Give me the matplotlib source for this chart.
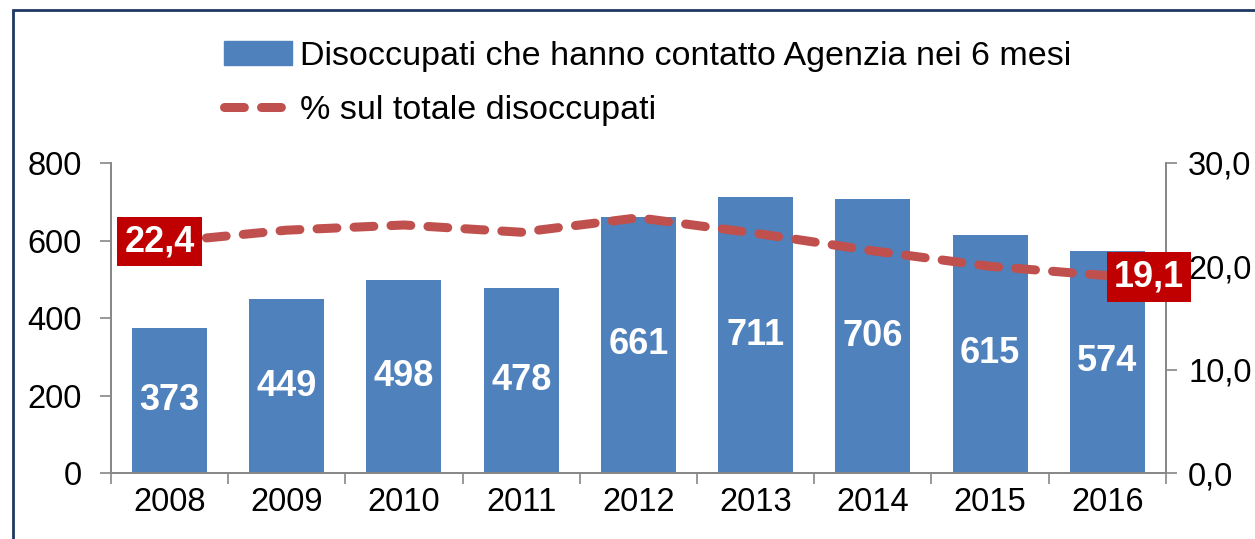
import matplotlib.pyplot as plt
import numpy as np
from matplotlib.patches import Rectangle
from matplotlib.lines import Line2D
from matplotlib.patches import Patch

# data
anni = ['2008', '2009', '2010', '2011', '2012', '2013', '2014', '2015', '2016']
disoccupati = [373, 449, 498, 478, 661, 711, 706, 615, 574]
quota_pct = [22.4, 23.5, 24.0, 23.3, 24.7, 23.2, 21.5, 20.0, 19.1]
left_ticks = [0, 200, 400, 600, 800]
right_ticks = [0, 10, 20, 30]

BLUE = '#4F81BD'
RED = '#C0504D'
DARK_RED = '#C00000'
GREY = '#868686'

plt.rcParams['font.family'] = ['Liberation Sans', 'DejaVu Sans']

fig = plt.figure(figsize=(12.55, 5.39), dpi=100)
ax = fig.add_axes([0.0884, 0.1224, 0.8406, 0.5752])
ax2 = ax.twinx()

x = np.arange(len(anni))
ax.bar(x, disoccupati, width=0.64, color=BLUE, zorder=2)
for xi, v in zip(x, disoccupati):
    ax.text(xi, v / 2, str(v), ha='center', va='center', color='white',
            fontsize=26, fontweight='bold', zorder=3)

ax.set_xlim(-0.5, len(anni) - 0.5)
ax.set_ylim(0, 800)
ax.set_yticks(left_ticks)
ax.set_xticks(x)
ax.set_xticklabels(anni)
ax.set_xticks(np.arange(-0.5, len(anni), 1.0), minor=True)
ax.tick_params(axis='x', which='major', length=0, pad=10, labelsize=23.5)
ax.tick_params(axis='x', which='minor', length=8, color=GREY, width=1.2)
ax.tick_params(axis='y', length=8, color=GREY, width=1.2, labelsize=23.5, pad=13)

line, = ax2.plot(x, quota_pct, color=RED, lw=6.5, solid_capstyle='round',
                 dash_capstyle='round', zorder=4)
line.set_dashes((2.2, 1.9))
ax2.set_ylim(0, 30)
ax2.set_yticks(right_ticks)
ax2.set_yticklabels([f'{t:.1f}'.replace('.', ',') for t in right_ticks])
ax2.tick_params(axis='y', length=8, color=GREY, width=1.2, labelsize=23.5, pad=8)

for a in (ax, ax2):
    a.spines['top'].set_visible(False)
    for s in ('left', 'right', 'bottom'):
        a.spines[s].set_color(GREY)
        a.spines[s].set_linewidth(1.2)

# value labels at the first and last point
box = dict(boxstyle='square,pad=0.2', fc=DARK_RED, ec='none')
ax2.annotate(f'{quota_pct[0]:.1f}'.replace('.', ','), (x[0], quota_pct[0]),
             xytext=(-7, 0), textcoords='offset points', ha='center', va='center',
             color='white', fontsize=26, fontweight='bold', bbox=box, zorder=5)
ax2.annotate(f'{quota_pct[-1]:.1f}'.replace('.', ','), (x[-1], quota_pct[-1]),
             xytext=(30, -1), textcoords='offset points', ha='center', va='center',
             color='white', fontsize=26, fontweight='bold', bbox=box, zorder=5)

handles = [Patch(color=BLUE),
           Line2D([0], [0], color=RED, lw=6.5, dash_capstyle='round', dashes=(2.2, 1.9))]
labels = ['Disoccupati che hanno contatto Agenzia nei 6 mesi', '% sul totale disoccupati']
fig.legend(handles, labels, loc='upper left', bbox_to_anchor=(210 / 1255, 0.950),
           frameon=False, fontsize=24.5, handlelength=2.0, handleheight=0.75,
           handletextpad=0.25, labelspacing=0.68, borderaxespad=0)

# outer frame
fig.patches.append(Rectangle((13 / 1255, -0.05), 1.1, 0.05 + 1 - 10 / 539,
                             transform=fig.transFigure, fill=False,
                             ec='#1F3864', lw=2, zorder=10))

fig.savefig('out.png', dpi=100)
